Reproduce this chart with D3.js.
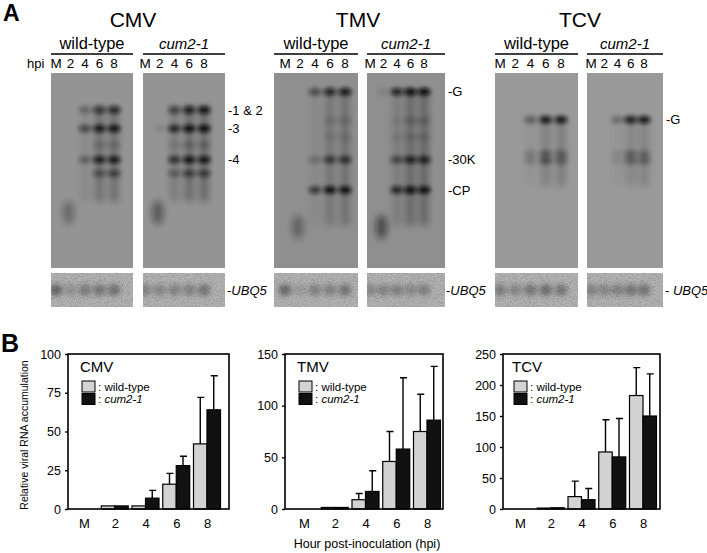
<!DOCTYPE html>
<html>
<head>
<meta charset="utf-8">
<script src="https://cdn.jsdelivr.net/npm/d3@7"></script>
<style>
  body { margin: 0; background: #fff; }
  text { font-family: "Liberation Sans", Arial, Helvetica, sans-serif; fill: #000; }
</style>
</head>
<body>
<svg id="fig" width="707" height="553"></svg>
<script>
// ---- data ----

const lanes = ["M", "2", "4", "6", "8"];
const genotypes = ["wild-type", "cum2-1"];
const viruses = ["CMV", "TMV", "TCV"];

// northern blot bands: pos = relative migration down the gel, wt / cum = darkness per lane
const cmvBands = [
  { label: "1 & 2", pos: 0.19, wt: [0, 0, .3, .65, .75], cum: [0, 0, .55, .85, .95] },
  { label: "3", pos: 0.285, wt: [0, 0, .55, .9, .95], cum: [0, .1, .8, 1, 1] },
  { label: "", pos: 0.37, wt: [0, 0, 0, .15, .15], cum: [0, 0, .1, .2, .2] },
  { label: "4", pos: 0.445, wt: [0, 0, .35, .85, .9], cum: [0, 0, .7, .95, .95] },
  { label: "", pos: 0.515, wt: [0, 0, 0, .45, .55], cum: [0, 0, .35, .6, .6] }
];
const tmvBands = [
  { label: "G", pos: 0.097, wt: [0, 0, .5, .8, .9], cum: [0, .1, .8, 1, 1] },
  { label: "", pos: 0.245, wt: [0, 0, 0, .12, .15], cum: [0, 0, .08, .2, .2] },
  { label: "", pos: 0.33, wt: [0, 0, 0, .1, .12], cum: [0, 0, .08, .15, .15] },
  { label: "30K", pos: 0.445, wt: [0, 0, .25, .65, .7], cum: [0, 0, .55, .85, .85] },
  { label: "CP", pos: 0.6, wt: [0, 0, .65, 1, 1], cum: [0, 0, .8, 1, 1] }
];
const tcvBands = [
  { label: "G", pos: 0.24, wt: [0, 0, .4, .9, .9], cum: [0, 0, .3, .85, .9] },
  { label: "", pos: 0.415, wt: [0, 0, .2, .4, .35], cum: [0, 0, .1, .35, .3] },
  { label: "", pos: 0.45, wt: [0, 0, .2, .45, .35], cum: [0, 0, .1, .35, .35] }
];

// lane smears: [from, to] along the gel, darkness per lane
const cmvSmear = { from: 0.17, to: 0.66, wt: [0, 0, .08, .25, .28], cum: [0, 0, .18, .3, .32] };
const tmvSmear = { from: 0.09, to: 0.78, wt: [0, 0, .05, .2, .25], cum: [0, 0, .15, .3, .32] };
const tcvSmear = { from: 0.23, to: 0.58, wt: [0, 0, .04, .18, .2], cum: [0, 0, .03, .14, .16] };

// low molecular weight blob seen near the bottom of lane "2"
const cmvBlob = { pos: 0.715, wt: .3, cum: .42 };
const tmvBlob = { pos: 0.79, wt: .32, cum: .5 };
const tcvBlob = { pos: 0.8, wt: 0, cum: 0 };

// UBQ5 loading control darkness per lane
const cmvUbq = { wt: [.5, .2, .35, .4, .42], cum: [.3, .28, .3, .32, .4] };
const tmvUbq = { wt: [.48, .15, .32, .32, .4], cum: [.28, .3, .32, .28, .32] };
const tcvUbq = { wt: [.35, .28, .4, .45, .38], cum: [.3, .28, .32, .4, .4] };

// panel B: relative viral RNA accumulation, bar top and error bar top
const hpi = ["M", "2", "4", "6", "8"];
const cmvWild = [0, 2, 2, 16, 42];
const cmvWildErr = [0, 2, 2, 23, 72];
const cmvCum = [0, 2, 7, 28, 64];
const cmvCumErr = [0, 2, 12, 34, 86];
const tmvWild = [0, 1.5, 9, 46, 75];
const tmvWildErr = [0, 1.5, 15, 75, 111];
const tmvCum = [0, 1.5, 17, 58, 86];
const tmvCumErr = [0, 1.5, 37, 127, 138];
const tcvWild = [0, 1.5, 20, 92, 183];
const tcvWildErr = [0, 1.5, 45, 144, 228];
const tcvCum = [0, 2, 15, 84, 150];
const tcvCumErr = [0, 2, 33, 146, 218];

const cmvTicks = [0, 25, 50, 75, 100];
const tmvTicks = [0, 50, 100, 150];
const tcvTicks = [0, 50, 100, 150, 200, 250];

// ---- layout ----

const svg = d3.select("#fig");
const defs = svg.append("defs");

defs.append("filter").attr("id", "bandBlur")
  .attr("x", "-80%").attr("y", "-150%").attr("width", "260%").attr("height", "400%")
  .append("feGaussianBlur").attr("stdDeviation", "2.3 1.9");
defs.append("filter").attr("id", "softBlur")
  .attr("x", "-120%").attr("y", "-60%").attr("width", "340%").attr("height", "220%")
  .append("feGaussianBlur").attr("stdDeviation", "3.2");
defs.append("filter").attr("id", "ubqBlur")
  .attr("x", "-80%").attr("y", "-80%").attr("width", "260%").attr("height", "260%")
  .append("feGaussianBlur").attr("stdDeviation", "2.4");

// grain for the loading control strips
const grain = defs.append("filter").attr("id", "grain");
grain.append("feTurbulence").attr("type", "fractalNoise").attr("baseFrequency", "0.75")
  .attr("numOctaves", 2).attr("seed", 7).attr("result", "n");
grain.append("feColorMatrix").attr("in", "n").attr("type", "matrix")
  .attr("values", "0 0 0 0 0  0 0 0 0 0  0 0 0 0 0  1.0 0 0 0 -0.35").attr("result", "g");
grain.append("feComposite").attr("in", "g").attr("in2", "SourceGraphic").attr("operator", "in");

const font = "Liberation Sans, Arial, Helvetica, sans-serif";
const blotTop = 73, blotH = 195, ubqTop = 273, ubqH = 34;

const blots = {
  CMV: { title: 133, gray: "#949494", bands: cmvBands, smear: cmvSmear, blob: cmvBlob, ubq: cmvUbq,
    gels: [{ x: 51, w: 82, lane: [56, 114] }, { x: 143, w: 82, lane: [145, 204] }], ubqLabel: 227, dash: "-" },
  TMV: { title: 358, gray: "#8f8f8f", bands: tmvBands, smear: tmvSmear, blob: tmvBlob, ubq: tmvUbq,
    gels: [{ x: 274, w: 84, lane: [285, 345] }, { x: 367, w: 78, lane: [370, 424] }], ubqLabel: 446, dash: "-" },
  TCV: { title: 580, gray: "#999999", bands: tcvBands, smear: tcvSmear, blob: tcvBlob, ubq: tcvUbq,
    gels: [{ x: 495, w: 83, lane: [500, 561] }, { x: 587, w: 76, lane: [591, 644] }], ubqLabel: 665, dash: "- " }
};

svg.append("text").attr("x", 3).attr("y", 21).attr("font-size", 23).attr("font-weight", "bold").text("A");
svg.append("text").attr("x", 27).attr("y", 68).attr("font-size", 13).text("hpi");

viruses.forEach(v => {
  const b = blots[v];
  const g = svg.append("g");
  const gy = d3.scaleLinear().domain([0, 1]).range([blotTop, blotTop + blotH]);

  g.append("text").attr("x", b.title).attr("y", 27).attr("text-anchor", "middle")
    .attr("font-size", 21).text(v);

  b.gels.forEach((gel, gi) => {
    const key = gi === 0 ? "wt" : "cum";
    const lx = d3.scalePoint().domain(lanes).range(gel.lane);
    const clipId = "clip-" + v + gi;
    defs.append("clipPath").attr("id", clipId).append("rect")
      .attr("x", gel.x).attr("y", blotTop).attr("width", gel.w).attr("height", blotH);
    const uclipId = "uclip-" + v + gi;
    defs.append("clipPath").attr("id", uclipId).append("rect")
      .attr("x", gel.x).attr("y", ubqTop).attr("width", gel.w).attr("height", ubqH);

    // genotype header with rule
    g.append("text").attr("x", gel.x + gel.w / 2).attr("y", 49).attr("text-anchor", "middle")
      .attr("font-size", gi === 0 ? 16.5 : 15).attr("font-style", gi === 0 ? "normal" : "italic")
      .text(genotypes[gi]);
    g.append("line").attr("x1", gel.x).attr("x2", gel.x + gel.w).attr("y1", 54).attr("y2", 54)
      .attr("stroke", "#000").attr("stroke-width", 1.4);

    g.selectAll(null).data(lanes).join("text")
      .attr("x", d => lx(d)).attr("y", 68).attr("text-anchor", "middle")
      .attr("font-size", 13.5).text(d => d);

    // blot
    const blot = g.append("g").attr("clip-path", `url(#${clipId})`);
    blot.append("rect").attr("x", gel.x).attr("y", blotTop).attr("width", gel.w).attr("height", blotH)
      .attr("fill", b.gray);

    blot.selectAll(null).data(lanes).join("rect")
      .attr("x", d => lx(d) - 4.5).attr("width", 9)
      .attr("y", gy(b.smear.from)).attr("height", gy(b.smear.to) - gy(b.smear.from))
      .attr("fill", "#111").attr("opacity", (d, i) => b.smear[key][i])
      .attr("filter", "url(#softBlur)");

    if (b.blob[key] > 0) {
      blot.append("ellipse").attr("cx", lx("2") - 2).attr("cy", gy(b.blob.pos))
        .attr("rx", 6).attr("ry", 12).attr("fill", "#111").attr("opacity", b.blob[key])
        .attr("filter", "url(#softBlur)");
    }

    b.bands.forEach(band => {
      blot.selectAll(null).data(lanes).join("ellipse")
        .attr("cx", d => lx(d)).attr("cy", gy(band.pos))
        .attr("rx", 6.5).attr("ry", 3.8)
        .attr("fill", "#0c0c0c").attr("opacity", (d, i) => band[key][i])
        .attr("filter", "url(#bandBlur)");
    });

    // loading control
    const ubq = g.append("g").attr("clip-path", `url(#${uclipId})`);
    ubq.append("rect").attr("x", gel.x).attr("y", ubqTop).attr("width", gel.w).attr("height", ubqH)
      .attr("fill", "#b8b8b8");
    ubq.append("rect").attr("x", gel.x).attr("y", ubqTop).attr("width", gel.w).attr("height", ubqH)
      .attr("fill", "#000").attr("filter", "url(#grain)").attr("opacity", 0.45);
    ubq.selectAll(null).data(lanes).join("ellipse")
      .attr("cx", d => lx(d)).attr("cy", ubqTop + 17)
      .attr("rx", 6.5).attr("ry", 6)
      .attr("fill", "#222").attr("opacity", (d, i) => b.ubq[key][i])
      .attr("filter", "url(#ubqBlur)");

    // band labels on the right of the mutant blot
    if (gi === 1) {
      b.bands.filter(d => d.label).forEach(band => {
        g.append("text").attr("x", gel.x + gel.w + 3).attr("y", gy(band.pos) + 4.5)
          .attr("font-size", 13).text("-" + band.label);
      });
      const t = g.append("text").attr("x", b.ubqLabel).attr("y", ubqTop + 22).attr("font-size", 13);
      t.append("tspan").text(b.dash);
      t.append("tspan").attr("font-style", "italic").text("UBQ5");
    }
  });
});

// ---- panel B ----

svg.append("text").attr("x", 1).attr("y", 352).attr("font-size", 25).attr("font-weight", "bold").text("B");

const plotTop = 354, plotBottom = 509, bw = 13.5;
const charts = [
  { name: "CMV", left: 68, right: 229, xr: [84, 207], max: 100, ticks: cmvTicks,
    wild: cmvWild, wildErr: cmvWildErr, cum: cmvCum, cumErr: cmvCumErr, leg: 80 },
  { name: "TMV", left: 285, right: 443, xr: [304, 427], max: 150, ticks: tmvTicks,
    wild: tmvWild, wildErr: tmvWildErr, cum: tmvCum, cumErr: tmvCumErr, leg: 297 },
  { name: "TCV", left: 503, right: 660, xr: [520, 643], max: 250, ticks: tcvTicks,
    wild: tcvWild, wildErr: tcvWildErr, cum: tcvCum, cumErr: tcvCumErr, leg: 512 }
];

charts.forEach(c => {
  const g = svg.append("g");
  const x = d3.scalePoint().domain(hpi).range(c.xr);
  const y = d3.scaleLinear().domain([0, c.max]).range([plotBottom, plotTop]);

  const series = [
    { vals: c.wild, err: c.wildErr, fill: "#d3d3d3", dx: -bw },
    { vals: c.cum, err: c.cumErr, fill: "#111", dx: 0 }
  ];

  series.forEach(s => {
    const rows = hpi.map((h, i) => ({ h, v: s.vals[i], e: s.err[i] }));
    g.selectAll(null).data(rows.filter(d => d.e > d.v)).join("path")
      .attr("d", d => {
        const cx = x(d.h) + s.dx + bw / 2;
        return `M${cx},${y(d.v)}V${y(d.e)}M${cx - 3},${y(d.e)}H${cx + 4}`;
      })
      .attr("stroke", "#000").attr("stroke-width", 1.4).attr("fill", "none");
    g.selectAll(null).data(rows).join("rect")
      .attr("x", d => x(d.h) + s.dx).attr("width", bw)
      .attr("y", d => y(d.v)).attr("height", d => y(0) - y(d.v))
      .attr("fill", s.fill).attr("stroke", "#000").attr("stroke-width", 1.2);
  });

  g.append("rect").attr("x", c.left).attr("y", plotTop)
    .attr("width", c.right - c.left).attr("height", plotBottom - plotTop)
    .attr("fill", "none").attr("stroke", "#000").attr("stroke-width", 1.6);

  const ya = g.append("g").attr("transform", `translate(${c.left},0)`)
    .call(d3.axisLeft(y).tickValues(c.ticks).tickSize(3).tickPadding(4));
  ya.select(".domain").remove();
  ya.selectAll("line").attr("stroke-width", 1.4);
  ya.selectAll("text").attr("font-size", 12.5).attr("font-family", font).attr("fill", "#000");

  const xa = g.append("g").attr("transform", `translate(0,${plotBottom})`)
    .call(d3.axisBottom(x).tickSize(0).tickPadding(10));
  xa.select(".domain").remove();
  xa.selectAll("text").attr("font-size", 13).attr("font-family", font).attr("fill", "#000");

  // legend
  g.append("text").attr("x", c.leg).attr("y", 372).attr("font-size", 15).text(c.name);
  [["#d3d3d3", "wild-type", "normal"], ["#111", "cum2-1", "italic"]].forEach((l, i) => {
    const yy = 381 + i * 12.5;
    g.append("rect").attr("x", c.leg + 2).attr("y", yy).attr("width", 13).attr("height", 11)
      .attr("fill", l[0]).attr("stroke", "#000").attr("stroke-width", 1);
    const t = g.append("text").attr("x", c.leg + 18).attr("y", yy + 9.5).attr("font-size", 11.5);
    t.append("tspan").text(": ");
    t.append("tspan").attr("font-style", l[2]).text(l[1]);
  });
});

svg.append("text").attr("transform", "translate(28,435) rotate(-90)")
  .attr("text-anchor", "middle").attr("font-size", 10.5).text("Relative viral RNA accumulation");
svg.append("text").attr("x", 367).attr("y", 548).attr("text-anchor", "middle")
  .attr("font-size", 12.5).text("Hour post-inoculation (hpi)");
</script>
</body>
</html>
